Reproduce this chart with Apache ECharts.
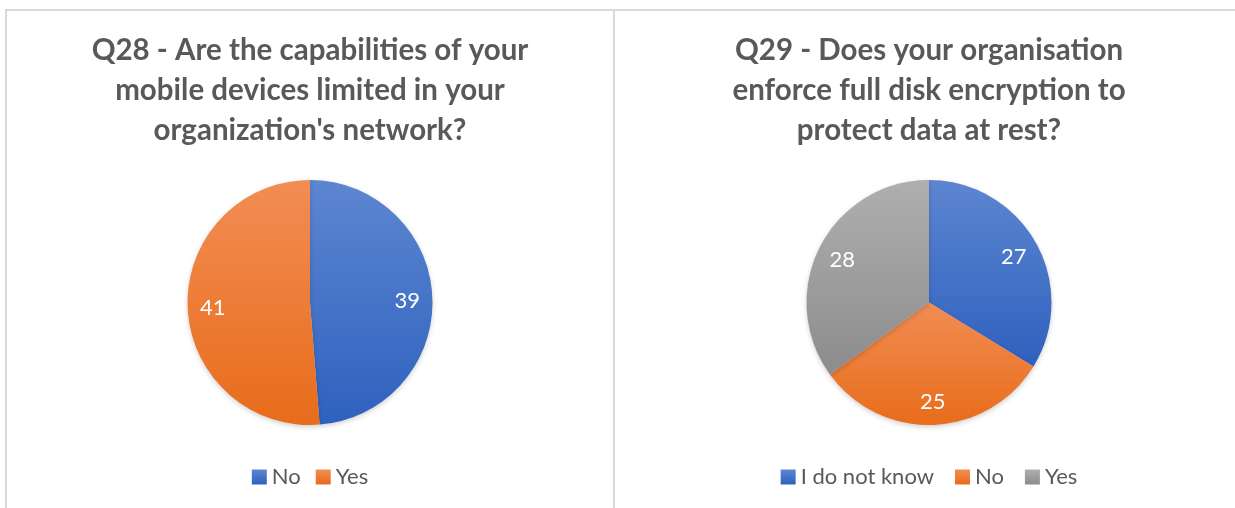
<!DOCTYPE html>
<html>
<head>
<meta charset="utf-8">
<script src="https://cdn.jsdelivr.net/npm/echarts@6/dist/echarts.min.js"></script>
<style>
  html, body { margin: 0; padding: 0; background: #ffffff; }
  body { width: 1235px; height: 508px; position: relative; overflow: hidden; }
  .panel { position: absolute; box-sizing: border-box; border: 0 solid #d9d9d9; }
  #panelL { left: 5px; top: 9px; width: 610px; height: 520px; border-left-width: 2px; border-top-width: 2px; border-right-width: 2px; }
  #panelR { left: 613px; top: 9px; width: 640px; height: 520px; border-top-width: 2px; }
  .chart { position: absolute; top: 0; height: 508px; width: 620px; }
  #chartL { left: 0; }
  #chartR { left: 619px; }
</style>
</head>
<body>
<div class="panel" id="panelL"></div>
<div class="panel" id="panelR"></div>
<div class="chart" id="chartL"></div>
<div class="chart" id="chartR"></div>
<script>
// Survey answers
const q28Title = "Q28 - Are the capabilities of your\nmobile devices limited in your\norganization's network?";
const q28Categories = ['No', 'Yes'];
const q28Values = [39, 41];

const q29Title = 'Q29 - Does your organisation\nenforce full disk encryption to\nprotect data at rest?';
const q29Categories = ['I do not know', 'No', 'Yes'];
const q29Values = [27, 25, 28];

// Slice fills: light at the top, darker at the bottom
function shade(top, bottom) {
  return new echarts.graphic.LinearGradient(0, 0, 0, 1, [
    { offset: 0, color: top },
    { offset: 1, color: bottom }
  ]);
}
const palette = {
  blue: shade('#5d86d1', '#2e61be'),
  orange: shade('#f28d54', '#e86c1a'),
  gray: shade('#afafaf', '#8c8c8c')
};

const FONT = 'Lato, "Noto Sans", sans-serif';
const TEXT = '#595959';
const CENTER = [310, 302.5];
const R = 122.5;

function buildOption(title, categories, values, colors, gap) {
  const data = categories.map((name, i) => ({
    name: name,
    value: values[i],
    itemStyle: { color: colors[i] }
  }));
  const labelData = categories.map((name, i) => ({ name: name, value: values[i] }));
  return {
    animation: false,
    title: {
      text: title,
      left: 'center',
      top: 30,
      padding: 0,
      textStyle: {
        fontFamily: FONT,
        fontWeight: 'bold',
        fontSize: 29.5,
        lineHeight: 40,
        color: TEXT
      }
    },
    legend: {
      data: categories,
      bottom: 15,
      left: 'center',
      itemWidth: 15,
      itemHeight: 15,
      itemGap: gap,
      icon: 'rect',
      textStyle: { fontFamily: FONT, fontSize: 22, color: TEXT }
    },
    series: [
      {
        type: 'pie',
        center: CENTER,
        radius: [0, R],
        startAngle: 90,
        clockwise: true,
        data: data,
        label: { show: false },
        labelLine: { show: false },
        itemStyle: {
          borderWidth: 0,
          shadowBlur: 5,
          shadowOffsetY: 2,
          shadowColor: 'rgba(0,0,0,0.18)'
        },
        emphasis: { disabled: true }
      },
      {
        // transparent ring carrying the value labels
        type: 'pie',
        center: CENTER,
        radius: [66, R],
        startAngle: 90,
        clockwise: true,
        silent: true,
        data: labelData,
        itemStyle: { color: 'rgba(0,0,0,0)', borderWidth: 0 },
        label: {
          show: true,
          position: 'inside',
          formatter: '{c}',
          fontFamily: FONT,
          fontSize: 22,
          color: '#ffffff',
          offset: [0, 2]
        },
        labelLine: { show: false },
        emphasis: { disabled: true }
      }
    ]
  };
}

const chartL = echarts.init(document.getElementById('chartL'), null, { renderer: 'canvas' });
chartL.setOption(buildOption(q28Title, q28Categories, q28Values, [palette.blue, palette.orange], 15));

const chartR = echarts.init(document.getElementById('chartR'), null, { renderer: 'canvas' });
chartR.setOption(buildOption(q29Title, q29Categories, q29Values, [palette.blue, palette.orange, palette.gray], 21));
</script>
</body>
</html>
